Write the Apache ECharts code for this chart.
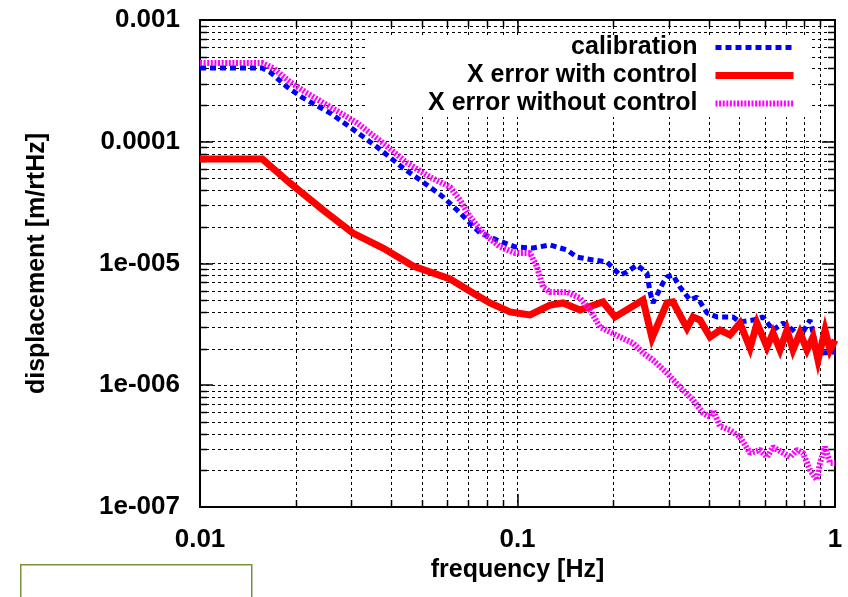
<!DOCTYPE html>
<html><head><meta charset="utf-8">
<script src="https://cdn.jsdelivr.net/npm/echarts@6/dist/echarts.min.js"></script>
<style>html,body{margin:0;padding:0;background:#fff}#c{width:848px;height:597px}</style>
</head><body><div id="c"></div>
<script>
const seriesNames = ['calibration', 'X error with control', 'X error without control'];
const calibration = [[0.01,4.03e-4],[0.0157,4.03e-4],[0.0166,3.74e-4],[0.0188,2.82e-4],[0.0211,2.29e-4],[0.0257,1.72e-4],[0.0312,1.20e-4],[0.0361,9.06e-5],[0.0436,6.09e-5],[0.0504,4.67e-5],[0.0583,3.52e-5],[0.0645,2.75e-5],[0.0693,2.28e-5],[0.0762,1.78e-5],[0.0862,1.56e-5],[0.0982,1.37e-5],[0.1119,1.34e-5],[0.1266,1.42e-5],[0.1432,1.29e-5],[0.1539,1.13e-5],[0.1729,1.07e-5],[0.1914,1.03e-5],[0.1999,9.18e-6],[0.2103,8.04e-6],[0.2213,8.51e-6],[0.2379,9.72e-6],[0.2558,8.35e-6],[0.2614,5.83e-6],[0.2672,4.74e-6],[0.2872,6.92e-6],[0.2957,7.75e-6],[0.3088,8.04e-6],[0.3249,6.41e-6],[0.3494,5.01e-6],[0.3676,5.31e-6],[0.3953,3.92e-6],[0.4250,3.64e-6],[0.4772,3.64e-6],[0.5021,3.31e-6],[0.5518,3.43e-6],[0.5933,3.64e-6],[0.6379,2.84e-6],[0.6858,3.24e-6],[0.7374,2.84e-6],[0.7759,2.49e-6],[0.8343,3.43e-6],[0.8777,1.95e-6],[0.9167,1.84e-6],[1.0,1.875e-6]];
const withControl = [[0.01,7.22e-5],[0.0157,7.22e-5],[0.0192,4.58e-5],[0.0244,2.75e-5],[0.0303,1.78e-5],[0.0377,1.34e-5],[0.0469,9.54e-6],[0.0613,7.46e-6],[0.0724,5.72e-6],[0.0819,4.74e-6],[0.0947,4.00e-6],[0.1095,3.78e-6],[0.1266,4.56e-6],[0.1391,4.74e-6],[0.1573,4.15e-6],[0.1859,4.83e-6],[0.2028,3.64e-6],[0.2485,5.01e-6],[0.2653,2.44e-6],[0.2957,4.74e-6],[0.3088,4.83e-6],[0.3419,2.95e-6],[0.3571,3.64e-6],[0.3757,3.43e-6],[0.4040,2.49e-6],[0.4344,2.84e-6],[0.4670,2.59e-6],[0.5021,3.24e-6],[0.5400,2.02e-6],[0.5680,3.24e-6],[0.6108,2.06e-6],[0.6379,2.69e-6],[0.6711,1.95e-6],[0.7060,2.84e-6],[0.7374,1.95e-6],[0.7759,2.69e-6],[0.8163,1.95e-6],[0.8526,2.49e-6],[0.8841,1.61e-6],[0.9300,2.84e-6],[0.9645,1.95e-6],[1.0,2.35e-6]];
const withoutControl = [[0.01,4.43e-4],[0.0157,4.43e-4],[0.0170,4.03e-4],[0.0192,3.10e-4],[0.0217,2.51e-4],[0.0257,1.93e-4],[0.0312,1.43e-4],[0.0377,9.76e-5],[0.0449,6.69e-5],[0.0530,5.13e-5],[0.0613,4.25e-5],[0.0659,3.32e-5],[0.0709,2.41e-5],[0.0779,1.78e-5],[0.0881,1.37e-5],[0.0982,1.22e-5],[0.1095,1.22e-5],[0.1152,9.36e-6],[0.1203,6.41e-6],[0.1266,5.83e-6],[0.1432,5.83e-6],[0.1573,5.21e-6],[0.1692,4.15e-6],[0.1819,3.01e-6],[0.1956,2.74e-6],[0.2103,2.49e-6],[0.2311,2.22e-6],[0.2485,1.84e-6],[0.2672,1.61e-6],[0.2957,1.26e-6],[0.3249,9.67e-7],[0.3571,7.57e-7],[0.3839,5.92e-7],[0.4040,5.48e-7],[0.4128,6.26e-7],[0.4344,4.6e-7],[0.4670,4.29e-7],[0.5021,3.76e-7],[0.5400,2.78e-7],[0.5805,2.94e-7],[0.6108,2.57e-7],[0.6379,3.11e-7],[0.6858,2.78e-7],[0.7216,2.57e-7],[0.7592,2.94e-7],[0.7929,2.78e-7],[0.8343,2.01e-7],[0.8777,1.67e-7],[0.8970,2.30e-7],[0.9300,3.11e-7],[0.9645,2.30e-7],[1.0,2.30e-7]];
const xTickValues = [0.01, 0.1, 1];
const xTickLabels = ['0.01', '0.1', '1'];
const yTickValues = [1e-7, 1e-6, 1e-5, 1e-4, 1e-3];
const yTickLabels = ['1e-007', '1e-006', '1e-005', '0.0001', '0.001'];
const xMinorTicks = [0.02,0.03,0.04,0.05,0.06,0.07,0.08,0.09,0.2,0.3,0.4,0.5,0.6,0.7,0.8,0.9];
const yMinorTicks = [2e-7,3e-7,4e-7,5e-7,6e-7,7e-7,8e-7,9e-7,2e-6,3e-6,4e-6,5e-6,6e-6,7e-6,8e-6,9e-6,2e-5,3e-5,4e-5,5e-5,6e-5,7e-5,8e-5,9e-5,2e-4,3e-4,4e-4,5e-4,6e-4,7e-4,8e-4,9e-4];

const X_MIN = xTickValues[0], X_MAX = xTickValues[xTickValues.length - 1];
const Y_MIN = yTickValues[0], Y_MAX = yTickValues[yTickValues.length - 1];
const FONT = 'Liberation Sans, Arial, sans-serif';
const GRID_STYLE = {stroke: '#000', lineWidth: 1, lineDash: [3, 3]};
const TICK_STYLE = {stroke: '#000', lineWidth: 1.5};

function labelFor(values, labels, v) {
  const e = Math.round(Math.log10(v));
  for (let i = 0; i < values.length; i++) if (Math.round(Math.log10(values[i])) === e) return labels[i];
  return '';
}

function xMinorRender(params, api) {
  const v = api.value(0);
  const t = api.coord([v, Y_MAX]), b = api.coord([v, Y_MIN]);
  const x = Math.round(t[0]) + 0.5;
  return {type: 'group', children: [
    {type: 'line', shape: {x1: x, y1: t[1], x2: x, y2: b[1]}, style: GRID_STYLE},
    {type: 'line', shape: {x1: x, y1: b[1], x2: x, y2: b[1] - 7}, style: TICK_STYLE},
    {type: 'line', shape: {x1: x, y1: t[1], x2: x, y2: t[1] + 7}, style: TICK_STYLE}
  ]};
}
function yMinorRender(params, api) {
  const v = api.value(1);
  const l = api.coord([X_MIN, v]), r = api.coord([X_MAX, v]);
  const y = Math.round(l[1]) + 0.5;
  return {type: 'group', children: [
    {type: 'line', shape: {x1: l[0], y1: y, x2: r[0], y2: y}, style: GRID_STYLE},
    {type: 'line', shape: {x1: l[0], y1: y, x2: l[0] + 7, y2: y}, style: TICK_STYLE},
    {type: 'line', shape: {x1: r[0], y1: y, x2: r[0] - 7, y2: y}, style: TICK_STYLE}
  ]};
}

const axisCommon = {
  type: 'log', logBase: 10,
  axisLine: {show: true, onZero: false, lineStyle: {color: '#000', width: 2}},
  axisTick: {show: true, inside: true, length: 13, lineStyle: {color: '#000', width: 1.5}},
  splitLine: {show: false},
  minorTick: {show: false}, minorSplitLine: {show: false}
};

const chart = echarts.init(document.getElementById('c'), null, {renderer: 'canvas'});
chart.setOption({
  animation: false,
  backgroundColor: '#fff',
  grid: {left: 200, right: 13, top: 20, bottom: 90, containLabel: false},
  xAxis: [
    Object.assign({}, axisCommon, {
      position: 'bottom', min: X_MIN, max: X_MAX,
      splitLine: {show: true, lineStyle: {color: '#000', width: 1, type: [3, 3]}},
      axisLabel: {show: true, margin: 20, color: '#000', fontFamily: FONT, fontSize: 26, fontWeight: 'bold',
        formatter: v => labelFor(xTickValues, xTickLabels, v)},
      name: 'frequency [Hz]', nameLocation: 'middle', nameGap: 51,
      nameTextStyle: {color: '#000', fontFamily: FONT, fontSize: 25, fontWeight: 'bold'}
    }),
    Object.assign({}, axisCommon, {position: 'top', min: X_MIN, max: X_MAX, axisLabel: {show: false}})
  ],
  yAxis: [
    Object.assign({}, axisCommon, {
      position: 'left', min: Y_MIN, max: Y_MAX,
      splitLine: {show: true, lineStyle: {color: '#000', width: 1, type: [3, 3]}},
      axisLabel: {show: true, margin: 20, color: '#000', fontFamily: FONT, fontSize: 26, fontWeight: 'bold',
        formatter: v => labelFor(yTickValues, yTickLabels, v)},
      name: 'displacement [m/rtHz]', nameLocation: 'middle', nameGap: 150, nameRotate: 90,
      nameTextStyle: {color: '#000', fontFamily: FONT, fontSize: 25, fontWeight: 'bold'}
    }),
    Object.assign({}, axisCommon, {position: 'right', min: Y_MIN, max: Y_MAX, axisLabel: {show: false}})
  ],
  legend: {
    orient: 'vertical', right: 39, top: 35, align: 'right',
    itemWidth: 78, itemHeight: 14, itemGap: 3, padding: [0, 12, 1, 60],
    backgroundColor: '#fff', selectedMode: false,
    data: seriesNames,
    itemStyle: {color: 'rgba(0,0,0,0)', borderWidth: 0, opacity: 0},
    lineStyle: {width: 'inherit'},
    textStyle: {color: '#000', fontFamily: FONT, fontSize: 25, fontWeight: 'bold', lineHeight: 25, padding: [0, 13, 0, 0]}
  },
  graphic: [{type: 'rect', left: 20, top: 564, shape: {width: 231, height: 40},
    style: {fill: '#fff', stroke: '#77933c', lineWidth: 1.5}, silent: true}],
  series: [
    {type: 'custom', name: 'xminor', renderItem: xMinorRender, data: xMinorTicks.map(v => [v, Y_MIN]),
      encode: {x: 0, y: 1}, clip: false, silent: true, z: 1},
    {type: 'custom', name: 'yminor', renderItem: yMinorRender, data: yMinorTicks.map(v => [X_MIN, v]),
      encode: {x: 0, y: 1}, clip: false, silent: true, z: 1},
    {name: seriesNames[0], type: 'line', data: calibration, symbol: 'none', showSymbol: false, z: 3,
      itemStyle: {color: '#0000ff'}, lineStyle: {color: '#0000ff', width: 5, type: [6, 4], cap: 'butt'}},
    {name: seriesNames[1], type: 'line', data: withControl, symbol: 'none', showSymbol: false, z: 3,
      itemStyle: {color: '#ff0000'}, lineStyle: {color: '#ff0000', width: 7, cap: 'butt', join: 'miter'}},
    {name: seriesNames[2], type: 'line', data: withoutControl, symbol: 'none', showSymbol: false, z: 3,
      itemStyle: {color: '#ff00ff'}, lineStyle: {color: '#ff00ff', width: 6, type: [2, 1.6], cap: 'butt'}}
  ]
});
</script></body></html>
